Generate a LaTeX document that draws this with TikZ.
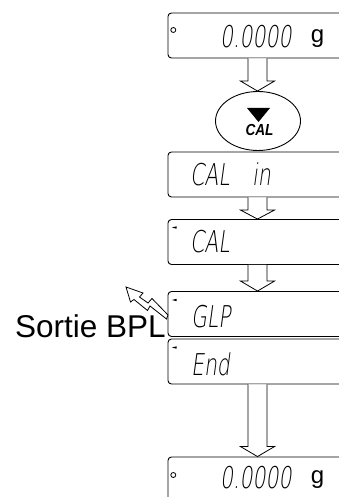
\documentclass[tikz,border=0pt]{standalone}
\usepackage{fontspec}
\setmainfont{Liberation Sans}
\newfontfamily\segfont{DejaVu Sans ExtraLight}[FakeSlant=0.2]
\usetikzlibrary{shapes.geometric,calc}
\newcommand\harrow[3]{%
  \draw[harrowline] let \p1=(#1), \p2=(#2) in
    (\x1-9.5pt,\y1) -- (\x1-9.5pt,\y2+#3) -- (\x1-17pt,\y2+#3) -- (\x1,\y2)
    -- (\x1+17pt,\y2+#3) -- (\x1+9.5pt,\y2+#3) -- (\x1+9.5pt,\y1);}
\begin{document}
\begin{tikzpicture}[x=1pt,y=-1pt,
  disp/.style={draw,line width=0.9pt,rounded corners=3.5pt,minimum width=177pt,
    minimum height=45pt,inner sep=0pt},
  segtext/.style={font=\segfont\fontsize{30}{30}\selectfont,xscale=0.68,inner sep=0pt,anchor=base west},
  unit/.style={font=\fontsize{24}{24}\selectfont,inner sep=0pt,anchor=base},
  harrowline/.style={draw,line width=0.8pt,line join=miter,fill=white},
  dot/.style={draw,line width=0.8pt,circle,minimum size=5pt,inner sep=0pt},
  wedge/.style={fill=black}]
\useasboundingbox (0,0) rectangle (339,497);
\clip (0,0) rectangle (339,497);
\coordinate (ax) at (257.5,0);
% display boxes
\node[disp] (b1) at (256.5,35.5) {};
\node[draw,ellipse,line width=0.9pt,minimum width=85pt,minimum height=59pt,inner sep=0pt] (cal) at (258,121) {};
\node[disp] (b2) at (256.5,174.5) {};
\node[disp] (b3) at (256.5,242) {};
\node[disp] (b4) at (256.5,314) {};
\node[disp] (b5) at (256.5,361.5) {};
\node[disp] (b6) at (256.5,479.5) {};
% texts
\node[segtext] (t1) at (220,48) {0.0000};
\node[unit] (g1) at (317.5,43) {g};
\node[dot] (c1) at (173.3,30) {};
\fill (247,108) -- (270,108) -- (258.5,122) -- cycle;
\node[font=\bfseries\itshape\fontsize{16}{16}\selectfont,xscale=0.85,inner sep=0pt,anchor=base] (calt) at (259.5,136) {CAL};
\node[segtext] (t2) at (190,185) {CAL};
\node[segtext] (t2b) at (252,185) {in};
\node[segtext] (t3) at (190,252) {CAL};
\node[segtext] (t4) at (191,327) {GLP};
\node[segtext] (t5) at (191,375) {End};
\node[segtext] (t6) at (220,488) {0.0000};
\node[unit] (g6) at (317.5,483) {g};
\node[dot] (c6) at (173.3,475) {};
\fill[wedge] (172,227.5) -- (176.5,226.3) -- (176.5,228.7) -- cycle;
\fill[wedge] (172,300) -- (176.5,298.8) -- (176.5,301.2) -- cycle;
\fill[wedge] (172,347.5) -- (176.5,346.3) -- (176.5,348.7) -- cycle;
% hollow arrows
\harrow{b1.south -| ax}{cal.north -| ax}{10pt}
\harrow{b2.south -| ax}{b3.north -| ax}{9pt}
\harrow{b3.south -| ax}{b4.north -| ax}{10pt}
\harrow{b5.south -| ax}{b6.north -| ax}{10pt}
% GLP output
\node[font=\fontsize{31.5}{31.5}\selectfont,inner sep=0pt,anchor=base west] (bpl) at (15,337) {Sortie BPL};
\draw[line width=0.8pt,line join=miter,fill=white] (126,287) -- (143,293) -- (139.5,297) -- (148,303)
  -- (152,298.5) -- (168,315) -- (166.5,319) -- (150,306) -- (147.5,310.5) -- (134,299.5)
  -- (130.5,302) -- cycle;
\end{tikzpicture}
\end{document}
